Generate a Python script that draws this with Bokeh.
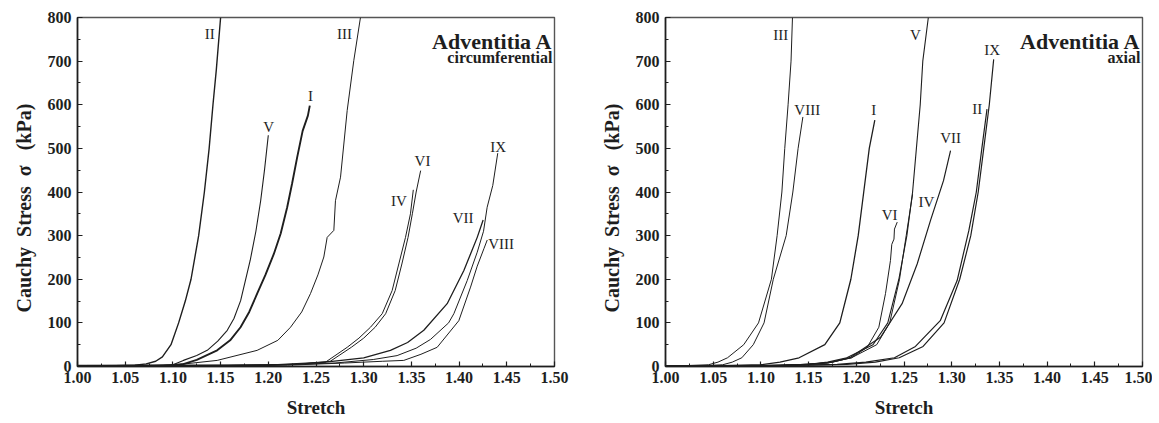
from bokeh.plotting import figure
from bokeh.layouts import row
from bokeh.models import SingleIntervalTicker, Label, Range1d, PrintfTickFormatter, ColumnDataSource, Title
from bokeh.core.properties import value
from bokeh.embed import file_html
from bokeh.resources import INLINE

# ---------------- Left panel: circumferential ----------------
circ_I_stretch = [1.00, 1.09, 1.11, 1.125, 1.1464, 1.160, 1.1709, 1.180, 1.1883, 1.197, 1.2058, 1.213, 1.2198, 1.225, 1.2303, 1.236, 1.2415, 1.2435]
circ_I_stress = [2, 2, 5, 15, 37, 60, 90, 125, 167, 210, 258, 305, 365, 420, 480, 540, 575, 598]

circ_II_stretch = [1.00, 1.04, 1.06, 1.072, 1.082, 1.089, 1.098, 1.106, 1.113, 1.119, 1.127, 1.133, 1.138, 1.142, 1.1455, 1.150]
circ_II_stress = [2, 2, 3, 6, 12, 22, 50, 100, 150, 200, 300, 400, 500, 600, 680, 800]

circ_III_stretch = [1.00, 1.10, 1.1464, 1.1883, 1.210, 1.2233, 1.235, 1.2442, 1.252, 1.2582, 1.2617, 1.2687, 1.2704, 1.2757, 1.2827, 1.2896, 1.2966]
circ_III_stress = [2, 3, 14, 37, 60, 90, 125, 167, 210, 251, 296, 312, 380, 434, 587, 701, 800]

circ_IV_stretch = [1.00, 1.15, 1.23, 1.26, 1.2827, 1.295, 1.3071, 1.3194, 1.3298, 1.3368, 1.3438, 1.349, 1.352]
circ_IV_stress = [2, 2, 5, 10, 44, 65, 90, 121, 174, 235, 296, 350, 405]

circ_V_stretch = [1.00, 1.08, 1.10, 1.111, 1.125, 1.136, 1.147, 1.157, 1.164, 1.171, 1.181, 1.187, 1.192, 1.196, 1.2000]
circ_V_stress = [2, 2, 4, 14, 25, 37, 58, 83, 110, 151, 243, 310, 380, 450, 530]

circ_VI_stretch = [1.00, 1.15, 1.23, 1.265, 1.287, 1.300, 1.312, 1.323, 1.333, 1.340, 1.3465, 1.351, 1.355, 1.3597]
circ_VI_stress = [2, 2, 5, 12, 44, 65, 90, 121, 174, 235, 296, 350, 400, 449]

circ_VII_stretch = [1.00, 1.20, 1.26, 1.30, 1.328, 1.346, 1.363, 1.3875, 1.405, 1.419, 1.4252]
circ_VII_stress = [2, 3, 10, 20, 37, 55, 83, 144, 220, 296, 336]

circ_VIII_stretch = [1.00, 1.22, 1.28, 1.32, 1.342, 1.36, 1.377, 1.3997, 1.412, 1.419, 1.426, 1.4295]
circ_VIII_stress = [2, 3, 8, 12, 14, 28, 44, 105, 182, 230, 270, 290]

circ_IX_stretch = [1.00, 1.20, 1.27, 1.31, 1.335, 1.355, 1.37, 1.389, 1.3945, 1.4085, 1.419, 1.4256, 1.4294, 1.4353, 1.4405]
circ_IX_stress = [2, 3, 8, 16, 25, 42, 62, 100, 121, 197, 262, 310, 365, 415, 489]

circ_label_text = ["I", "II", "III", "IV", "V", "VI", "VII", "VIII", "IX"]
circ_label_x = [1.2442, 1.1387, 1.2799, 1.3368, 1.2005, 1.3616, 1.4043, 1.4440, 1.4410]
circ_label_y = [621, 763, 763, 380, 549, 472, 341, 281, 504]

# ---------------- Right panel: axial ----------------
ax_I_stretch = [1.00, 1.06, 1.10, 1.12, 1.14, 1.167, 1.1827, 1.1943, 1.202, 1.2078, 1.2136, 1.2194]
ax_I_stress = [2, 2, 4, 10, 20, 50, 100, 200, 300, 400, 500, 565]

ax_II_stretch = [1.00, 1.12, 1.18, 1.21, 1.24, 1.262, 1.288, 1.3057, 1.318, 1.3258, 1.3316, 1.337]
ax_II_stress = [2, 2, 5, 10, 20, 46, 105, 197, 312, 400, 500, 590]

ax_III_stretch = [1.00, 1.02, 1.045, 1.055, 1.065, 1.082, 1.0975, 1.111, 1.117, 1.122, 1.125, 1.1285, 1.1316, 1.1331]
ax_III_stress = [2, 2, 4, 10, 20, 50, 100, 200, 300, 400, 500, 600, 700, 800]

ax_IV_stretch = [1.00, 1.12, 1.17, 1.195, 1.2214, 1.235, 1.2453, 1.2523, 1.259]
ax_IV_stress = [2, 2, 8, 20, 50, 100, 200, 300, 395]

ax_V_stretch = [1.00, 1.10, 1.15, 1.17, 1.19, 1.2175, 1.233, 1.2446, 1.253, 1.259, 1.263, 1.267, 1.2697, 1.2755]
ax_V_stress = [2, 2, 5, 10, 20, 50, 100, 200, 300, 400, 500, 600, 700, 800]

ax_VI_stretch = [1.00, 1.12, 1.17, 1.195, 1.2114, 1.2236, 1.2306, 1.2358, 1.2372, 1.2395, 1.2400, 1.2429]
ax_VI_stress = [2, 2, 8, 20, 44, 90, 167, 243, 280, 292, 315, 331]

ax_VII_stretch = [1.00, 1.10, 1.15, 1.175, 1.194, 1.2254, 1.248, 1.2638, 1.2778, 1.2914, 1.2988]
ax_VII_stress = [2, 2, 5, 10, 21, 67, 144, 235, 335, 426, 495]

ax_VIII_stretch = [1.00, 1.04, 1.06, 1.07, 1.08, 1.092, 1.1033, 1.113, 1.1265, 1.1335, 1.139, 1.144]
ax_VIII_stress = [2, 2, 4, 10, 20, 50, 100, 200, 300, 400, 500, 572]

ax_IX_stretch = [1.00, 1.12, 1.19, 1.22, 1.245, 1.27, 1.292, 1.3084, 1.32, 1.3278, 1.3336, 1.3394, 1.344]
ax_IX_stress = [2, 2, 5, 10, 20, 46, 100, 200, 300, 400, 500, 600, 704]

ax_label_text = ["I", "II", "III", "IV", "V", "VI", "VII", "VIII", "IX"]
ax_label_x = [1.2183, 1.3267, 1.1207, 1.2736, 1.2620, 1.2349, 1.2988, 1.1486, 1.3424]
ax_label_y = [588, 591, 760, 378, 760, 347, 524, 588, 726]

x_ticks_interval = 0.05
y_ticks_interval = 100

SERIF = "Liberation Serif"
INK = "#1e1e1e"
NB = "\u00a0"
Y_TITLE = "Cauchy" + NB + " Stress" + NB + " σ" + NB + NB + " (kPa)"

circ_curves = [
    (circ_I_stretch, circ_I_stress, 1.9),
    (circ_II_stretch, circ_II_stress, 1.4),
    (circ_III_stretch, circ_III_stress, 1.0),
    (circ_IV_stretch, circ_IV_stress, 1.0),
    (circ_V_stretch, circ_V_stress, 1.1),
    (circ_VI_stretch, circ_VI_stress, 1.0),
    (circ_VII_stretch, circ_VII_stress, 1.3),
    (circ_VIII_stretch, circ_VIII_stress, 1.0),
    (circ_IX_stretch, circ_IX_stress, 1.0),
]
ax_curves = [
    (ax_I_stretch, ax_I_stress, 1.3),
    (ax_II_stretch, ax_II_stress, 1.2),
    (ax_III_stretch, ax_III_stress, 1.0),
    (ax_IV_stretch, ax_IV_stress, 1.0),
    (ax_V_stretch, ax_V_stress, 1.1),
    (ax_VI_stretch, ax_VI_stress, 1.0),
    (ax_VII_stretch, ax_VII_stress, 1.2),
    (ax_VIII_stretch, ax_VIII_stress, 1.0),
    (ax_IX_stretch, ax_IX_stress, 1.2),
]


def make_fig(width, left, right, curves, ltext, lx, ly, subtitle):
    p = figure(width=width, height=423,
               x_range=Range1d(1.0, 1.5), y_range=Range1d(0, 800),
               output_backend="svg", toolbar_location=None,
               min_border_left=left, min_border_right=right,
               min_border_top=17, min_border_bottom=57)
    p.background_fill_color = "white"
    p.border_fill_color = "white"
    p.grid.visible = False
    p.outline_line_color = "#555555"
    p.outline_line_width = 1.4

    p.xaxis.ticker = SingleIntervalTicker(interval=x_ticks_interval, num_minor_ticks=2)
    p.yaxis.ticker = SingleIntervalTicker(interval=y_ticks_interval, num_minor_ticks=2)
    p.xaxis.formatter = PrintfTickFormatter(format="%.2f")
    for ax in (p.xaxis, p.yaxis):
        ax.axis_line_color = INK
        ax.axis_line_width = 1.6
        ax.major_tick_in = 5
        ax.major_tick_out = 0
        ax.minor_tick_in = 3
        ax.minor_tick_out = 0
        ax.major_tick_line_color = INK
        ax.minor_tick_line_color = INK
        ax.major_tick_line_width = 1.2
        ax.major_label_text_font = SERIF
        ax.major_label_text_font_style = "bold"
        ax.major_label_text_font_size = "16px"
        ax.major_label_text_color = INK
    p.xaxis.major_label_standoff = 5
    p.yaxis.major_label_standoff = 6
    p.xaxis.axis_label = "Stretch"
    p.xaxis.axis_label_text_font = SERIF
    p.xaxis.axis_label_text_font_style = "bold"
    p.xaxis.axis_label_text_font_size = "19px"
    p.xaxis.axis_label_text_color = INK
    p.xaxis.axis_label_standoff = 11

    for xs, ys, lw in curves:
        p.line(xs, ys, line_color=INK, line_width=lw)

    src = ColumnDataSource(dict(x=lx, y=ly, t=ltext))
    p.text(x="x", y="y", text="t", source=src, text_font=value(SERIF),
           text_font_size="15px", text_color=INK, text_align="center",
           text_baseline="middle")

    p.add_layout(Title(text=Y_TITLE, align="left", offset=54,
                       standoff=20, text_font=SERIF, text_font_style="bold",
                       text_font_size="20px", text_color=INK), "left")
    p.add_layout(Label(x=1.5, y=800, x_offset=-2, y_offset=-24,
                       text="Adventitia A", text_font=SERIF,
                       text_font_style="bold", text_font_size="22px",
                       text_color=INK, text_align="right", text_baseline="alphabetic"))
    p.add_layout(Label(x=1.5, y=800, x_offset=-2, y_offset=-40,
                       text=subtitle, text_font=SERIF,
                       text_font_style="bold", text_font_size="16px",
                       text_color=INK, text_align="right", text_baseline="alphabetic"))
    return p


p1 = make_fig(574, 77, 20, circ_curves, circ_label_text, circ_label_x, circ_label_y, "circumferential")
p2 = make_fig(578, 91, 10, ax_curves, ax_label_text, ax_label_x, ax_label_y, "axial")

layout = row(p1, p2)
open("out.html", "w").write(file_html(layout, INLINE))
